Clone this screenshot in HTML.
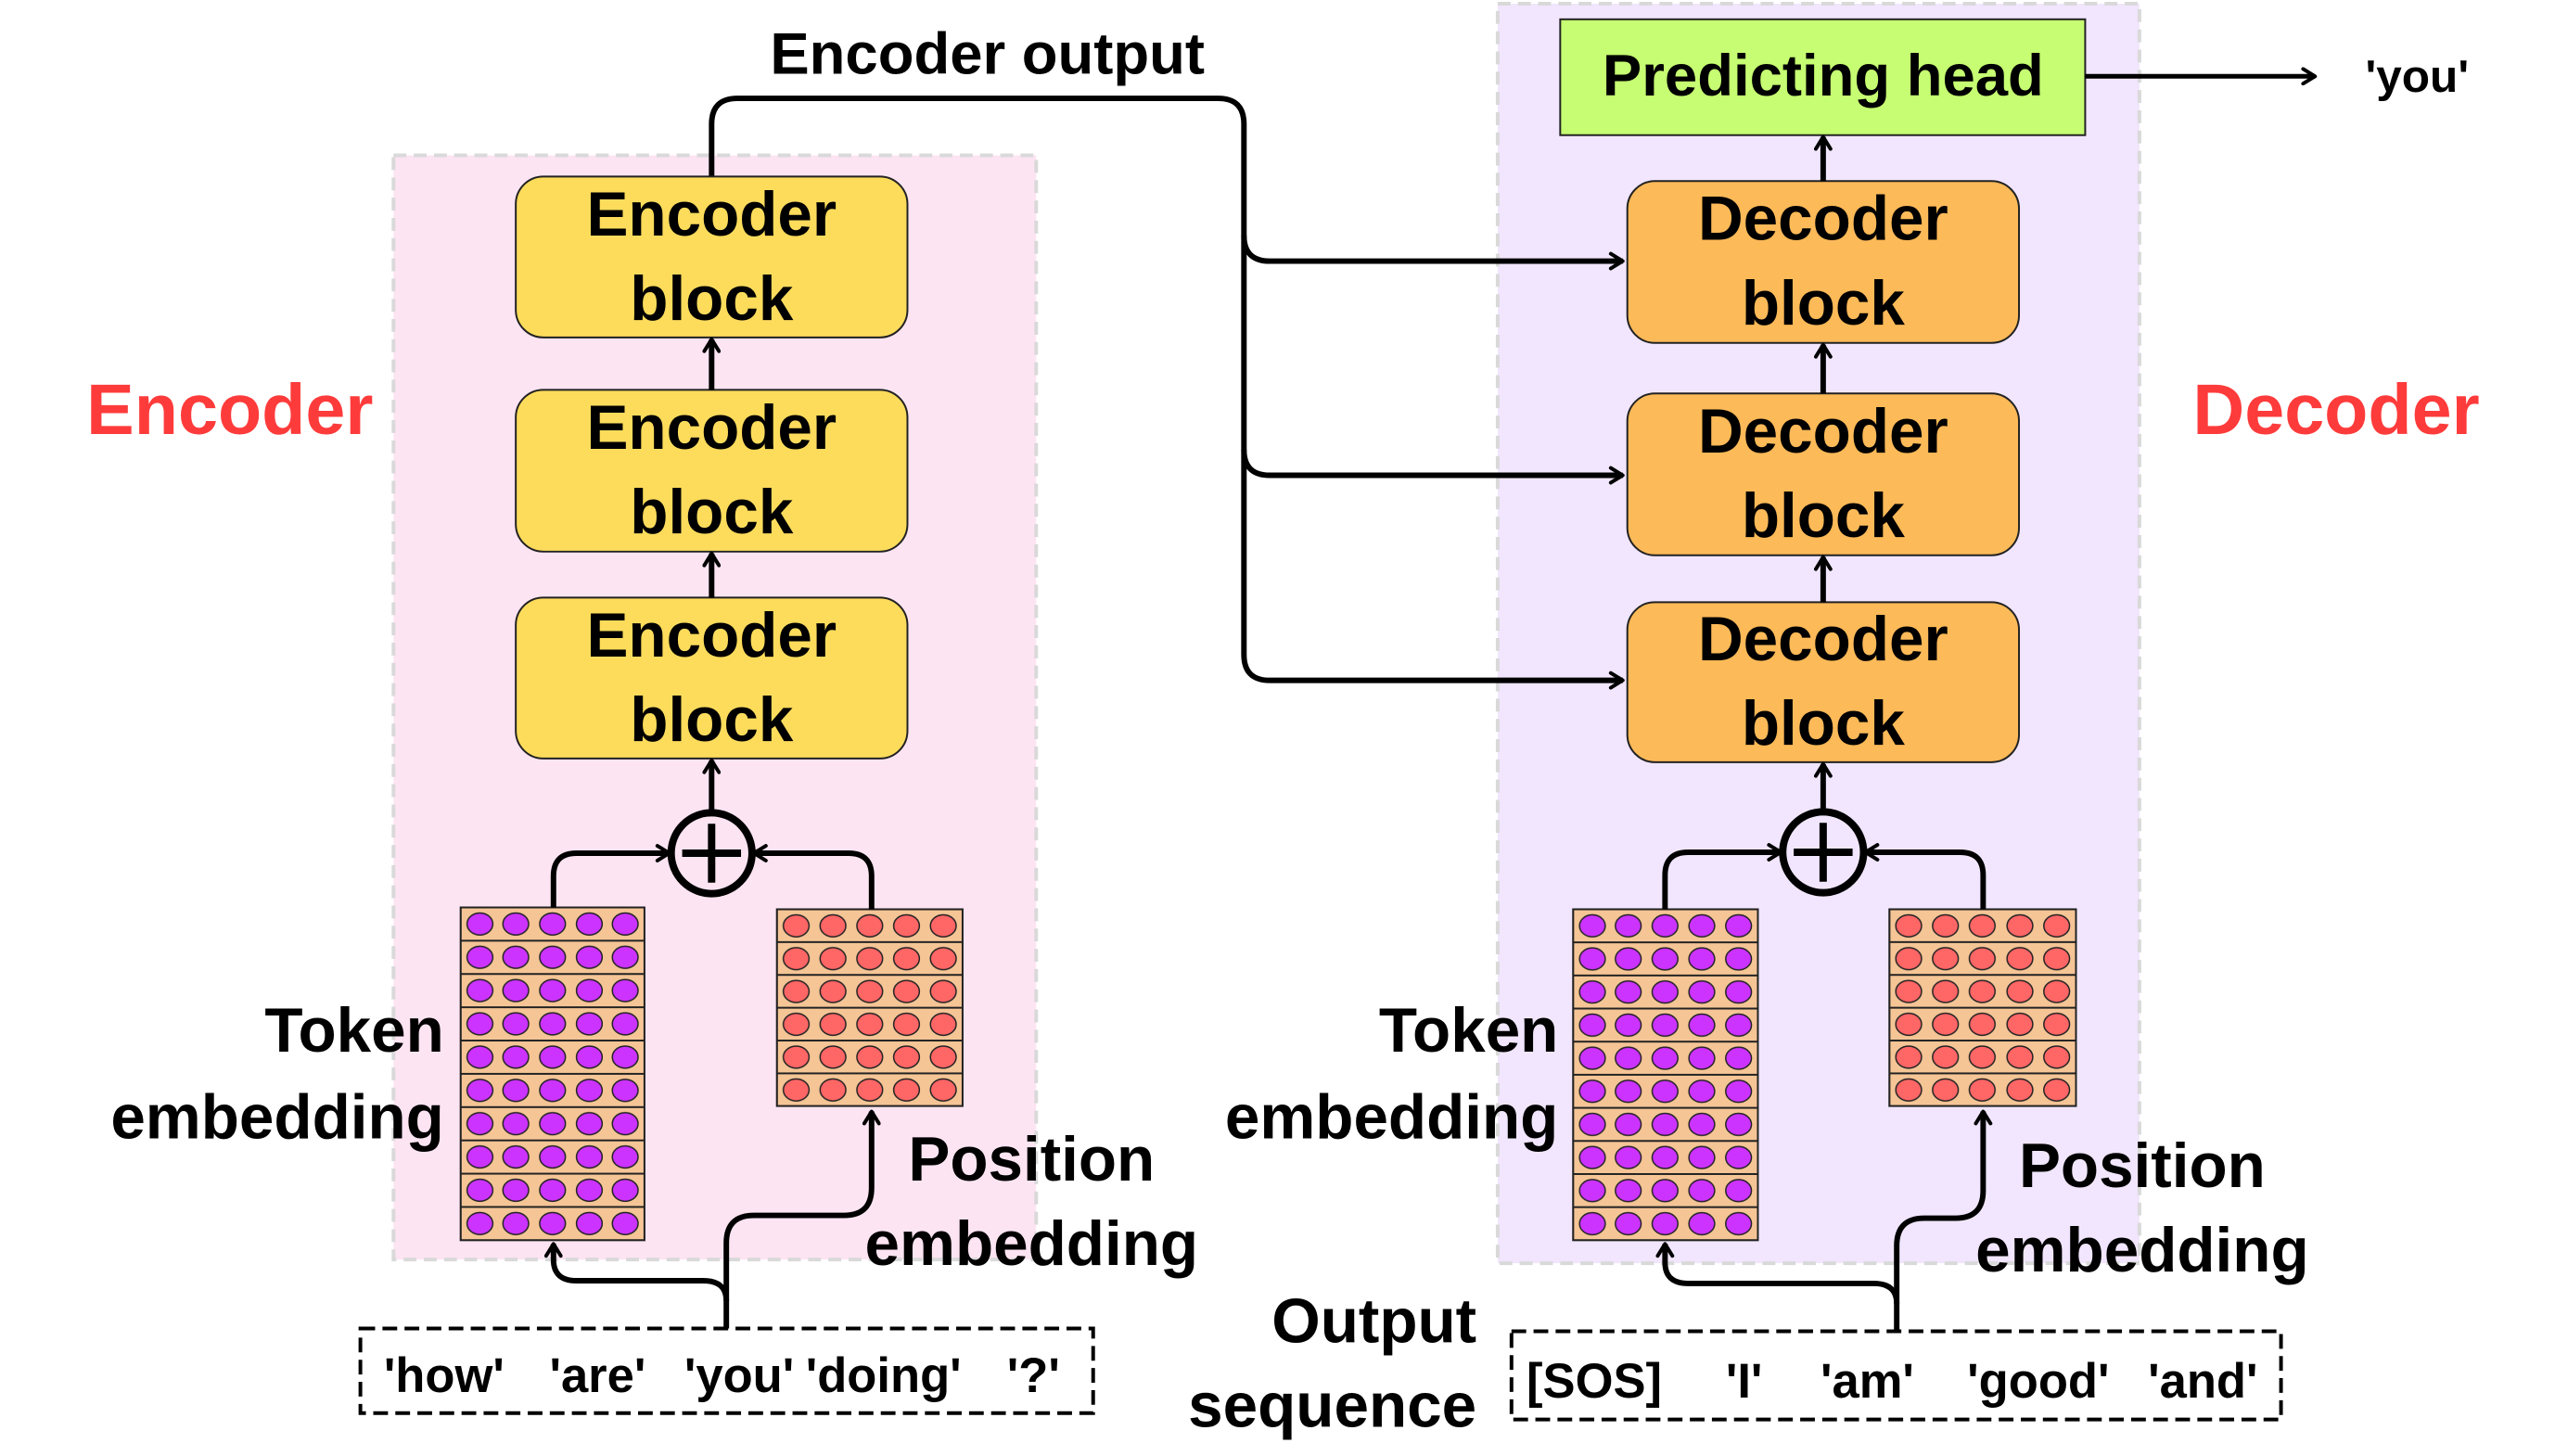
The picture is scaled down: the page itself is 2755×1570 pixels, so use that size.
<!DOCTYPE html>
<html><head><meta charset="utf-8"><style>
html,body{margin:0;padding:0;background:#fff;}
svg{display:block;}
text{font-family:"Liberation Sans",sans-serif;font-weight:bold;}
</style></head><body>
<svg width="2755" height="1570" viewBox="0 0 2779 1583" preserveAspectRatio="xMinYMin meet" xmlns="http://www.w3.org/2000/svg">
<defs>
<marker id="ah" viewBox="0 0 20 20" refX="17" refY="10" markerWidth="20" markerHeight="20" markerUnits="userSpaceOnUse" orient="auto">
<path d="M4,2 L17,10 L4,18" fill="none" stroke="#000" stroke-width="4" stroke-linecap="round" stroke-linejoin="round"/>
</marker>
<pattern id="pe1" x="501" y="987" width="200" height="36.2" patternUnits="userSpaceOnUse">
<rect x="0" y="0" width="200" height="36.2" fill="#f5c596" stroke="#222" stroke-width="2"/>
<g fill="#cc33ff" stroke="#222" stroke-width="1.5"><ellipse cx="21" cy="18" rx="14" ry="12"/><ellipse cx="60" cy="18" rx="14" ry="12"/><ellipse cx="100" cy="18" rx="14" ry="12"/><ellipse cx="140" cy="18" rx="14" ry="12"/><ellipse cx="179" cy="18" rx="14" ry="12"/></g>
</pattern>
<pattern id="pp1" x="845" y="989" width="202" height="35.7" patternUnits="userSpaceOnUse">
<rect x="0" y="0" width="202" height="35.7" fill="#f5c596" stroke="#222" stroke-width="2"/>
<g fill="#ff6666" stroke="#222" stroke-width="1.5"><ellipse cx="21" cy="18" rx="14" ry="12"/><ellipse cx="61" cy="18" rx="14" ry="12"/><ellipse cx="101" cy="18" rx="14" ry="12"/><ellipse cx="141" cy="18" rx="14" ry="12"/><ellipse cx="181" cy="18" rx="14" ry="12"/></g>
</pattern>
<pattern id="pe2" x="1711" y="989" width="201" height="36" patternUnits="userSpaceOnUse">
<rect x="0" y="0" width="201" height="36" fill="#f5c596" stroke="#222" stroke-width="2"/>
<g fill="#cc33ff" stroke="#222" stroke-width="1.5"><ellipse cx="21" cy="18" rx="14" ry="12"/><ellipse cx="60" cy="18" rx="14" ry="12"/><ellipse cx="100" cy="18" rx="14" ry="12"/><ellipse cx="140" cy="18" rx="14" ry="12"/><ellipse cx="180" cy="18" rx="14" ry="12"/></g>
</pattern>
<pattern id="pp2" x="2055" y="989" width="203" height="35.7" patternUnits="userSpaceOnUse">
<rect x="0" y="0" width="203" height="35.7" fill="#f5c596" stroke="#222" stroke-width="2"/>
<g fill="#ff6666" stroke="#222" stroke-width="1.5"><ellipse cx="21" cy="18" rx="14" ry="12"/><ellipse cx="61" cy="18" rx="14" ry="12"/><ellipse cx="101" cy="18" rx="14" ry="12"/><ellipse cx="142" cy="18" rx="14" ry="12"/><ellipse cx="182" cy="18" rx="14" ry="12"/></g>
</pattern>
</defs>

<rect x="428" y="169" width="699" height="1201" fill="#fde4f2" stroke="#d9d9d9" stroke-width="4" stroke-dasharray="14 8"/>
<rect x="1629" y="4" width="698" height="1370" fill="#f1e6fd" stroke="#d9d9d9" stroke-width="4" stroke-dasharray="14 8"/>

<text x="250" y="472" font-size="78" fill="#fe3b3b" text-anchor="middle">Encoder</text>
<text x="2541" y="472" font-size="78" fill="#fe3b3b" text-anchor="middle">Decoder</text>
<text x="1074" y="80" font-size="64" text-anchor="middle">Encoder output</text>

<g fill="none" stroke="#000" stroke-width="6">
<path d="M774,192 V135 Q774,107 802,107 H1325 Q1353,107 1353,135 V712 Q1353,740 1381,740 H1765" marker-end="url(#ah)"/>
<path d="M1353,256 Q1353,284 1381,284 H1765" marker-end="url(#ah)"/>
<path d="M1353,489 Q1353,517 1381,517 H1765" marker-end="url(#ah)"/>
</g>

<g fill="#fddc5c" stroke="#222" stroke-width="2">
<rect x="561" y="192" width="426" height="175" rx="30"/>
<rect x="561" y="424" width="426" height="176" rx="30"/>
<rect x="561" y="650" width="426" height="175" rx="30"/>
</g>
<g font-size="68" text-anchor="middle">
<text x="774" y="256">Encoder</text><text x="774" y="348">block</text>
<text x="774" y="488">Encoder</text><text x="774" y="580">block</text>
<text x="774" y="714">Encoder</text><text x="774" y="806">block</text>
</g>

<g fill="#fdba58" stroke="#222" stroke-width="2">
<rect x="1770" y="197" width="426" height="176" rx="30"/>
<rect x="1770" y="428" width="426" height="176" rx="30"/>
<rect x="1770" y="655" width="426" height="174" rx="30"/>
</g>
<g font-size="68" text-anchor="middle">
<text x="1983" y="261">Decoder</text><text x="1983" y="353">block</text>
<text x="1983" y="492">Decoder</text><text x="1983" y="584">block</text>
<text x="1983" y="718">Decoder</text><text x="1983" y="810">block</text>
</g>

<rect x="1697" y="21" width="571" height="126" fill="#c6fd72" stroke="#222" stroke-width="2"/>
<text x="1983" y="104" font-size="64" text-anchor="middle">Predicting head</text>
<g fill="none" stroke="#000" stroke-width="5">
<path d="M2268,83 H2518" marker-end="url(#ah)"/>
</g>
<text x="2629" y="100" font-size="50" text-anchor="middle">'you'</text>

<g fill="none" stroke="#000" stroke-width="6">
<path d="M774,424 V369" marker-end="url(#ah)"/>
<path d="M774,650 V602" marker-end="url(#ah)"/>
<path d="M774,882 V827" marker-end="url(#ah)"/>
<path d="M1983,197 V149" marker-end="url(#ah)"/>
<path d="M1983,428 V375" marker-end="url(#ah)"/>
<path d="M1983,655 V606" marker-end="url(#ah)"/>
<path d="M1983,881 V831" marker-end="url(#ah)"/>
</g>

<g fill="none" stroke="#000" stroke-width="8">
<circle cx="774" cy="928" r="44"/>
<path d="M742,928 H806 M774,896 V960"/>
<circle cx="1983" cy="927" r="44"/>
<path d="M1951,927 H2015 M1983,895 V959"/>
</g>

<rect x="501" y="987" width="200" height="362" fill="url(#pe1)" stroke="#222" stroke-width="2"/>
<rect x="845" y="989" width="202" height="214" fill="url(#pp1)" stroke="#222" stroke-width="2"/>
<rect x="1711" y="989" width="201" height="360" fill="url(#pe2)" stroke="#222" stroke-width="2"/>
<rect x="2055" y="989" width="203" height="214" fill="url(#pp2)" stroke="#222" stroke-width="2"/>

<g fill="none" stroke="#000" stroke-width="6">
<path d="M602,987 V953 Q602,928 627,928 H728" marker-end="url(#ah)"/>
<path d="M948,989 V953 Q948,928 923,928 H820" marker-end="url(#ah)"/>
<path d="M1811,989 V952 Q1811,927 1836,927 H1937" marker-end="url(#ah)"/>
<path d="M2157,989 V952 Q2157,927 2132,927 H2029" marker-end="url(#ah)"/>
</g>

<g fill="none" stroke="#000" stroke-width="6">
<path d="M790,1445 V1415 Q790,1393 765,1393 H627 Q602,1393 602,1370 V1353" marker-end="url(#ah)"/>
<path d="M790,1415 V1352 Q790,1322 820,1322 H918 Q948,1322 948,1292 V1209" marker-end="url(#ah)"/>
<path d="M2063,1448 V1418 Q2063,1396 2038,1396 H1836 Q1811,1396 1811,1373 V1353" marker-end="url(#ah)"/>
<path d="M2063,1418 V1355 Q2063,1325 2093,1325 H2127 Q2157,1325 2157,1295 V1209" marker-end="url(#ah)"/>
</g>

<g font-size="68">
<text x="483" y="1144" text-anchor="end">Token</text>
<text x="483" y="1238" text-anchor="end">embedding</text>
<text x="1122" y="1284" text-anchor="middle">Position</text>
<text x="1122" y="1376" text-anchor="middle">embedding</text>
<text x="1695" y="1144" text-anchor="end">Token</text>
<text x="1695" y="1238" text-anchor="end">embedding</text>
<text x="2330" y="1291" text-anchor="middle">Position</text>
<text x="2330" y="1383" text-anchor="middle">embedding</text>
<text x="1606" y="1460" text-anchor="end">Output</text>
<text x="1606" y="1552" text-anchor="end">sequence</text>
</g>

<rect x="392" y="1445" width="797" height="92" fill="none" stroke="#000" stroke-width="4" stroke-dasharray="16 8"/>
<g font-size="53" text-anchor="middle">
<text x="483" y="1514">'how'</text>
<text x="650" y="1514">'are'</text>
<text x="804" y="1514">'you'</text>
<text x="961" y="1514">'doing'</text>
<text x="1124" y="1514">'?'</text>
</g>
<rect x="1644" y="1448" width="837" height="96" fill="none" stroke="#000" stroke-width="4" stroke-dasharray="16 8"/>
<g font-size="53" text-anchor="middle">
<text x="1734" y="1520">[SOS]</text>
<text x="1897" y="1520">'I'</text>
<text x="2031" y="1520">'am'</text>
<text x="2217" y="1520">'good'</text>
<text x="2396" y="1520">'and'</text>
</g>
</svg>
</body></html>
